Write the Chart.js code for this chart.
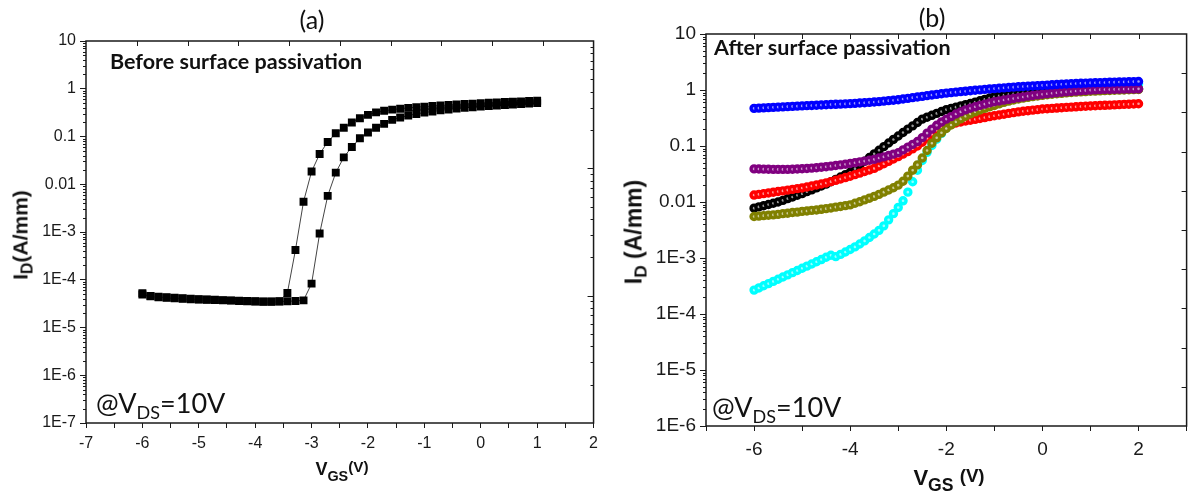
<!DOCTYPE html>
<html>
<head>
<meta charset="utf-8">
<script src="https://cdn.jsdelivr.net/npm/chart.js@4.4.1/dist/chart.umd.min.js"></script>
<style>
  html, body { margin: 0; padding: 0; background: #fff; }
  #wrap { position: relative; width: 1194px; height: 496px; overflow: hidden; }
  canvas { position: absolute; top: 0; }
  #chartA { left: 0; }
  #chartB { left: 604px; }
  .lbl { position: absolute; white-space: nowrap; color: #111; line-height: 1; }
  .panel { font-family: Lato, "Open Sans", sans-serif; font-size: 25px; transform: translate(-50%, -50%); }
  .note { font-family: Lato, sans-serif; font-weight: bold; font-size: 21.5px; }
  .vds { font-family: Lato, sans-serif; font-size: 27px; }
  .vds span { font-size: 18px; position: relative; top: 6px; }
  .ytitle { font-family: "Liberation Sans", Arial, sans-serif; font-weight: bold;
            transform: translate(-50%, -50%) rotate(-90deg); }
  .ytitle span { position: relative; top: 5px; font-size: 75%; }
  .xtitle { font-family: "Liberation Sans", Arial, sans-serif; font-weight: bold; transform: translateX(-50%); }
  .xtitle .sub { position: relative; top: 6px; font-size: 80%; }
  .xtitle .sup { position: relative; top: -3px; font-size: 85%; }
</style>
</head>
<body>
<div id="wrap">
  <canvas id="chartA" width="604" height="496"></canvas>
  <canvas id="chartB" width="590" height="496"></canvas>

  <div class="lbl panel" style="left:312px; top:19px;">(a)</div>
  <div class="lbl panel" style="left:932px; top:17px;">(b)</div>

  <div class="lbl note" style="left:110px; top:51px;">Before surface passivation</div>
  <div class="lbl note" style="left:714px; top:37px;">After surface passivation</div>

  <div class="lbl vds" style="left:96px; top:389px;">@V<span>DS</span>=10V</div>
  <div class="lbl vds" style="left:712px; top:393px;">@V<span>DS</span>=10V</div>

  <div class="lbl ytitle" style="left:20px; top:235px; font-size:21px;">I<span>D</span>(A/mm)</div>
  <div class="lbl ytitle" style="left:634px; top:232px; font-size:23px;">I<span>D</span> (A/mm)</div>

  <div class="lbl xtitle" style="left:342px; top:460px; font-size:18px;">V<span class="sub">GS</span><span class="sup">(V)</span></div>
  <div class="lbl xtitle" style="left:949px; top:467px; font-size:22px;">V<span class="sub">GS</span> <span class="sup">(V)</span></div>
</div>

<script>
// -----------------------------
// Panel (a): before passivation, two sweeps
// -----------------------------
const vgsA = [-6, -5.857, -5.714, -5.571, -5.429, -5.286, -5.143, -5, -4.857, -4.714,
  -4.571, -4.429, -4.286, -4.143, -4, -3.857, -3.714, -3.571, -3.429, -3.286,
  -3.143, -3, -2.857, -2.714, -2.571, -2.429, -2.286, -2.143, -2, -1.857,
  -1.714, -1.571, -1.429, -1.286, -1.143, -1, -0.857, -0.714, -0.571, -0.429,
  -0.286, -0.143, 0, 0.143, 0.286, 0.429, 0.571, 0.714, 0.857, 1];

const idSweep1 = [5.2e-5, 4.6e-5, 4.4e-5, 4.3e-5, 4.2e-5, 4.1e-5, 4.0e-5, 3.9e-5, 3.85e-5, 3.8e-5,
  3.75e-5, 3.7e-5, 3.65e-5, 3.6e-5, 3.55e-5, 3.5e-5, 3.5e-5, 3.55e-5, 5.3e-5, 4.2e-4,
  4.3e-3, 0.0185, 0.043, 0.077, 0.117, 0.152, 0.196, 0.241, 0.284, 0.320,
  0.345, 0.365, 0.382, 0.397, 0.410, 0.422, 0.434, 0.446, 0.457, 0.468,
  0.479, 0.489, 0.499, 0.509, 0.518, 0.527, 0.536, 0.545, 0.554, 0.562];

const idSweep2 = [4.9e-5, 4.5e-5, 4.3e-5, 4.2e-5, 4.1e-5, 4.0e-5, 3.9e-5, 3.85e-5, 3.8e-5, 3.75e-5,
  3.7e-5, 3.65e-5, 3.6e-5, 3.55e-5, 3.5e-5, 3.45e-5, 3.45e-5, 3.5e-5, 3.55e-5, 3.6e-5,
  3.7e-5, 8.3e-5, 9.3e-4, 5.7e-3, 0.0175, 0.0366, 0.0605, 0.0917, 0.121, 0.152,
  0.184, 0.223, 0.250, 0.275, 0.297, 0.317, 0.335, 0.352, 0.368, 0.383,
  0.397, 0.410, 0.423, 0.435, 0.447, 0.458, 0.469, 0.480, 0.490, 0.500];

// -----------------------------
// Panel (b): after passivation, six devices
// -----------------------------
const vgsB = [-6, -5.9, -5.8, -5.7, -5.6, -5.5, -5.4, -5.3, -5.2, -5.1,
  -5, -4.9, -4.8, -4.7, -4.6, -4.5, -4.4, -4.3, -4.2, -4.1,
  -4, -3.9, -3.8, -3.7, -3.6, -3.5, -3.4, -3.3, -3.2, -3.1,
  -3, -2.9, -2.8, -2.7, -2.6, -2.5, -2.4, -2.3, -2.2, -2.1,
  -2, -1.9, -1.8, -1.7, -1.6, -1.5, -1.4, -1.3, -1.2, -1.1,
  -1, -0.9, -0.8, -0.7, -0.6, -0.5, -0.4, -0.3, -0.2, -0.1,
  0, 0.1, 0.2, 0.3, 0.4, 0.5, 0.6, 0.7, 0.8, 0.9,
  1, 1.1, 1.2, 1.3, 1.4, 1.5, 1.6, 1.7, 1.8, 1.9, 2];

const idBlue = [0.470, 0.475, 0.480, 0.485, 0.490, 0.495, 0.500, 0.505, 0.510, 0.515,
  0.520, 0.525, 0.530, 0.535, 0.540, 0.545, 0.550, 0.555, 0.560, 0.565,
  0.570, 0.577, 0.585, 0.592, 0.600, 0.610, 0.620, 0.632, 0.645, 0.657,
  0.670, 0.690, 0.710, 0.730, 0.750, 0.770, 0.792, 0.814, 0.836, 0.858,
  0.880, 0.898, 0.916, 0.934, 0.952, 0.970, 0.988, 1.006, 1.024, 1.042,
  1.060, 1.076, 1.092, 1.108, 1.124, 1.140, 1.154, 1.168, 1.182, 1.196,
  1.210, 1.224, 1.238, 1.252, 1.266, 1.280, 1.292, 1.304, 1.316, 1.328,
  1.340, 1.348, 1.356, 1.364, 1.372, 1.380, 1.388, 1.396, 1.404, 1.412, 1.420];

const idBlack = [0.00776, 0.00817, 0.00859, 0.00904, 0.00951, 0.0100, 0.0107, 0.0115, 0.0123, 0.0132,
  0.0141, 0.0153, 0.0165, 0.0179, 0.0193, 0.0209, 0.0230, 0.0254, 0.0279, 0.0308,
  0.0339, 0.0394, 0.0459, 0.0535, 0.0622, 0.0724, 0.0839, 0.0973, 0.113, 0.131,
  0.151, 0.174, 0.200, 0.229, 0.263, 0.302, 0.327, 0.353, 0.382, 0.413,
  0.447, 0.470, 0.494, 0.520, 0.547, 0.575, 0.608, 0.643, 0.679, 0.718,
  0.759, 0.790, 0.815, 0.838, 0.858, 0.875, 0.890, 0.903, 0.915, 0.926,
  0.936, 0.945, 0.954, 0.962, 0.970, 0.977, 0.984, 0.990, 0.996, 1.001,
  1.006, 1.010, 1.014, 1.018, 1.022, 1.026, 1.030, 1.034, 1.038, 1.041, 1.044];

const idRed = [0.0133, 0.0137, 0.0141, 0.0145, 0.0149, 0.0154, 0.0158, 0.0163, 0.0168, 0.0173,
  0.0178, 0.0185, 0.0193, 0.0201, 0.0210, 0.0219, 0.0231, 0.0244, 0.0258, 0.0273,
  0.0288, 0.0308, 0.0328, 0.0350, 0.0373, 0.0398, 0.0439, 0.0483, 0.0532, 0.0586,
  0.0646, 0.0716, 0.0794, 0.0891, 0.100, 0.117, 0.138, 0.162, 0.191, 0.211,
  0.229, 0.244, 0.257, 0.269, 0.279, 0.288, 0.299, 0.310, 0.322, 0.334,
  0.347, 0.358, 0.370, 0.382, 0.394, 0.407, 0.417, 0.427, 0.437, 0.447,
  0.457, 0.463, 0.470, 0.476, 0.483, 0.490, 0.495, 0.501, 0.507, 0.513,
  0.519, 0.524, 0.528, 0.533, 0.538, 0.543, 0.548, 0.553, 0.558, 0.564, 0.569];

const idPurple = [0.0390, 0.0388, 0.0386, 0.0384, 0.0383, 0.0382, 0.0382, 0.0383, 0.0385, 0.0388,
  0.0392, 0.0397, 0.0403, 0.0410, 0.0418, 0.0427, 0.0437, 0.0448, 0.0460, 0.0473,
  0.0487, 0.0503, 0.0520, 0.0538, 0.0557, 0.0578, 0.0610, 0.0640, 0.0675, 0.0715,
  0.0759, 0.0851, 0.0955, 0.107, 0.120, 0.141, 0.170, 0.200, 0.234, 0.269,
  0.302, 0.335, 0.372, 0.407, 0.442, 0.473, 0.501, 0.531, 0.560, 0.589,
  0.617, 0.638, 0.661, 0.682, 0.705, 0.728, 0.752, 0.776, 0.798, 0.819,
  0.839, 0.859, 0.877, 0.895, 0.912, 0.927, 0.942, 0.957, 0.971, 0.984,
  0.995, 1.007, 1.014, 1.019, 1.023, 1.028, 1.033, 1.038, 1.042, 1.045, 1.049];

const idOlive = [0.0055, 0.0056, 0.0057, 0.0058, 0.0059, 0.0060, 0.0062, 0.0063, 0.0065, 0.0066,
  0.0068, 0.0069, 0.0071, 0.0072, 0.0074, 0.0076, 0.0078, 0.0081, 0.0083, 0.0086,
  0.0089, 0.0095, 0.0101, 0.0109, 0.0117, 0.0126, 0.0137, 0.0150, 0.0164, 0.0180,
  0.0200, 0.0235, 0.0290, 0.0370, 0.0460, 0.0610, 0.0830, 0.112, 0.140, 0.172,
  0.205, 0.237, 0.270, 0.305, 0.340, 0.375, 0.408, 0.440, 0.470, 0.500,
  0.530, 0.565, 0.600, 0.632, 0.662, 0.690, 0.716, 0.740, 0.762, 0.783,
  0.803, 0.822, 0.840, 0.857, 0.873, 0.888, 0.902, 0.915, 0.927, 0.938,
  0.948, 0.957, 0.966, 0.974, 0.982, 0.989, 0.996, 1.003, 1.009, 1.015, 1.020];

const idCyan = [2.67e-4, 2.92e-4, 3.19e-4, 3.49e-4, 3.82e-4, 4.18e-4, 4.57e-4, 5.00e-4, 5.47e-4, 5.98e-4,
  6.55e-4, 7.16e-4, 7.83e-4, 8.57e-4, 9.38e-4, 1.03e-3, 1.12e-3, 1.06e-3, 1.16e-3, 1.28e-3,
  1.42e-3, 1.58e-3, 1.78e-3, 2.02e-3, 2.32e-3, 2.68e-3, 3.12e-3, 3.75e-3, 4.80e-3, 6.20e-3,
  8.00e-3, 0.0105, 0.0150, 0.0230, 0.0370, 0.0550, 0.0770, 0.102, 0.132, 0.168,
  0.210, 0.250, 0.290, 0.330, 0.370, 0.410, 0.450, 0.490, 0.530, 0.570,
  0.620, 0.680, 0.750, 0.820, 0.890, 0.950, 1.000, 1.040, 1.070, 1.100,
  1.120, 1.140, 1.155, 1.170, 1.183, 1.195, 1.205, 1.215, 1.224, 1.232,
  1.240, 1.245, 1.250, 1.255, 1.260, 1.265, 1.270, 1.274, 1.278, 1.282, 1.285];

// -----------------------------
// Tick labels
// -----------------------------
const yTicksA = [10, 1, 0.1, 0.01, 1e-3, 1e-4, 1e-5, 1e-6, 1e-7];
const yLabelsA = ["10", "1", "0.1", "0.01", "1E-3", "1E-4", "1E-5", "1E-6", "1E-7"];
const yTicksB = [10, 1, 0.1, 0.01, 1e-3, 1e-4, 1e-5, 1e-6];
const yLabelsB = ["10", "1", "0.1", "0.01", "1E-3", "1E-4", "1E-5", "1E-6"];
const xLabelsB = [-6, -4, -2, 0, 2];

const INK = "#1a1a1a";
const TICK_FONT = "'Liberation Sans', Arial, sans-serif";

function pts(xs, ys) {
  return xs.map((x, i) => ({ x: x, y: ys[i] }));
}

function decadeLabel(ticks, labels) {
  return (v) => {
    const i = ticks.findIndex((t) => Math.abs(Math.log10(t) - Math.log10(v)) < 1e-6);
    return i >= 0 ? labels[i] : "";
  };
}

// frame, minor log ticks, top and right axis ticks
const frameTicks = {
  id: "frameTicks",
  afterDraw(chart, args, o) {
    const { ctx, chartArea: a } = chart;
    const y = chart.scales.y;
    const h = a.bottom - a.top;
    ctx.save();
    ctx.strokeStyle = INK;
    ctx.lineWidth = 1;
    ctx.beginPath();
    const e0 = Math.round(Math.log10(y.min));
    const e1 = Math.round(Math.log10(y.max));
    for (let e = e0; e < e1; e++) {
      for (let m = 2; m <= 9; m++) {
        const py = Math.round(y.getPixelForValue(m * Math.pow(10, e))) + 0.5;
        ctx.moveTo(a.left - 3, py);
        ctx.lineTo(a.left, py);
      }
    }
    for (let i = 1; i < o.topDiv; i++) {
      const px = Math.round(a.left + (a.right - a.left) * i / o.topDiv) + 0.5;
      ctx.moveTo(px, a.top);
      ctx.lineTo(px, a.top + 5);
    }
    if (o.rightDecades) {
      for (let d = 0; d < o.rightDecades; d++) {
        for (let m = 1; m <= 9; m++) {
          if (d === 0 && m === 1) continue;
          const py = Math.round(a.bottom - h * (d + Math.log10(m)) / o.rightDecades) + 0.5;
          ctx.moveTo(a.right, py);
          ctx.lineTo(a.right - (m === 1 ? 6 : 3), py);
        }
      }
    } else {
      for (let i = 1; i < o.rightDiv; i++) {
        const py = Math.round(a.top + h * i / o.rightDiv) + 0.5;
        ctx.moveTo(a.right, py);
        ctx.lineTo(a.right - 5, py);
      }
    }
    ctx.stroke();
    ctx.lineWidth = 1.5;
    ctx.strokeRect(a.left, a.top, a.right - a.left, h);
    ctx.restore();
  },
};

function lighten(hex, f) {
  const n = parseInt(hex.slice(1), 16);
  const r = (n >> 16) & 255, g = (n >> 8) & 255, b = n & 255;
  const mix = (c) => Math.round(c + (255 - c) * f);
  return `rgb(${mix(r)},${mix(g)},${mix(b)})`;
}

// -----------------------------
// Chart (a)
// -----------------------------
const squareStyle = {
  showLine: true,
  borderColor: "#444",
  borderWidth: 1,
  pointStyle: "rect",
  pointRadius: 5.6,
  pointBorderWidth: 0,
  pointBackgroundColor: "#000",
  tension: 0,
};

new Chart(document.getElementById("chartA"), {
  type: "scatter",
  data: {
    datasets: [
      { data: pts(vgsA, idSweep1), ...squareStyle },
      { data: pts(vgsA, idSweep2), ...squareStyle },
    ],
  },
  options: {
    responsive: false,
    animation: false,
    devicePixelRatio: 1,
    layout: { padding: { top: 41, right: 4, left: 0, bottom: 0 } },
    plugins: { legend: { display: false }, tooltip: { enabled: false }, frameTicks: { topDiv: 10, rightDecades: 3 } },
    scales: {
      x: {
        type: "linear", min: -7, max: 2,
        afterFit: (s) => { s.height = 73; },
        ticks: {
          stepSize: 0.5, autoSkip: false, maxRotation: 0, padding: 6, color: INK,
          font: { family: TICK_FONT, size: 16 },
          callback: (v) => (Number.isInteger(v) ? String(v) : ""),
        },
        grid: { drawOnChartArea: false, tickLength: 5, tickColor: INK },
        border: { display: false },
      },
      y: {
        type: "logarithmic", min: 1e-7, max: 10,
        afterFit: (s) => { s.width = 86; },
        afterBuildTicks: (s) => { s.ticks = yTicksA.map((v) => ({ value: v })); },
        ticks: {
          autoSkip: false, padding: 4, color: INK,
          font: { family: TICK_FONT, size: 16 },
          callback: decadeLabel(yTicksA, yLabelsA),
        },
        grid: { drawOnChartArea: false, tickLength: 6, tickColor: INK },
        border: { display: false },
      },
    },
  },
  plugins: [frameTicks],
});

// -----------------------------
// Chart (b)
// -----------------------------
function circleSet(ys, color) {
  return {
    data: pts(vgsB, ys),
    showLine: false,
    pointStyle: "circle",
    pointRadius: 3,
    pointBorderWidth: 3.4,
    pointBorderColor: color,
    pointBackgroundColor: lighten(color, 0.6),
  };
}

new Chart(document.getElementById("chartB"), {
  type: "scatter",
  data: {
    // first dataset is drawn on top
    datasets: [
      circleSet(idBlue, "#0000ff"),
      circleSet(idPurple, "#800080"),
      circleSet(idOlive, "#808000"),
      circleSet(idRed, "#ff0000"),
      circleSet(idBlack, "#000000"),
      circleSet(idCyan, "#00ffff"),
    ],
  },
  options: {
    responsive: false,
    animation: false,
    devicePixelRatio: 1,
    layout: { padding: { top: 34, right: 1, left: 0, bottom: 0 } },
    plugins: { legend: { display: false }, tooltip: { enabled: false }, frameTicks: { topDiv: 10, rightDiv: 10 } },
    scales: {
      x: {
        type: "linear", min: -7, max: 3,
        afterFit: (s) => { s.height = 70; },
        ticks: {
          stepSize: 1, autoSkip: false, maxRotation: 0, padding: 7, color: INK,
          font: { family: TICK_FONT, size: 19 },
          callback: (v) => (xLabelsB.includes(v) ? String(v) : ""),
        },
        grid: { drawOnChartArea: false, tickLength: 5, tickColor: INK },
        border: { display: false },
      },
      y: {
        type: "logarithmic", min: 1e-6, max: 10,
        afterFit: (s) => { s.width = 102; },
        afterBuildTicks: (s) => { s.ticks = yTicksB.map((v) => ({ value: v })); },
        ticks: {
          autoSkip: false, padding: 4, color: INK,
          font: { family: TICK_FONT, size: 19 },
          callback: decadeLabel(yTicksB, yLabelsB),
        },
        grid: { drawOnChartArea: false, tickLength: 6, tickColor: INK },
        border: { display: false },
      },
    },
  },
  plugins: [frameTicks],
});
</script>
</body>
</html>
